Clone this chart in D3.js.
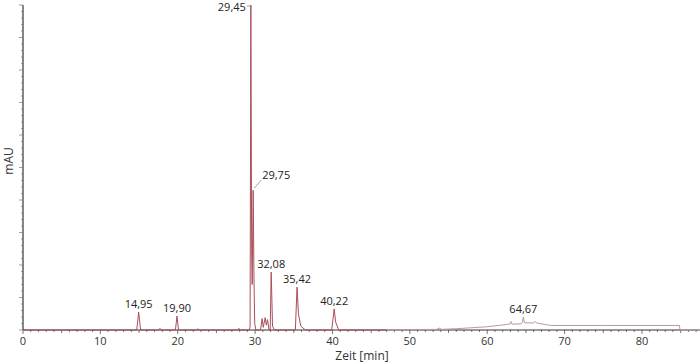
<!DOCTYPE html>
<html>
<head>
<meta charset="utf-8">
<script src="https://cdn.jsdelivr.net/npm/d3@7"></script>
<style>
  body { margin: 0; background: #fff; }
  svg { display: block; }
  text { font-family: "Open Sans", sans-serif; }
</style>
</head>
<body>
<svg id="chart" width="700" height="364"></svg>
<script>
// Chromatogram trace: retention time [min] and signal [mAU, relative]
const traceTime = [0, 14.7, 14.95, 15.2, 17.55, 17.7, 17.85, 19.7, 19.9, 20.1,
  22.5, 22.6, 22.7, 27.8, 27.9, 28.0, 29.25, 29.35, 29.45, 29.55, 29.62, 29.75, 29.85, 29.95, 30.1,
  30.7, 30.9, 31.05, 31.3, 31.45, 31.6, 31.8, 31.95, 32.08, 32.25, 32.5,
  35.2, 35.42, 35.6, 35.9, 36.5, 39.9, 40.22, 40.4, 40.8,
  47, 53.5, 53.8, 54.1, 56, 58, 60, 61.5, 62.5, 62.9, 63.05, 63.2, 64.4, 64.55, 64.67, 64.8,
  66.0, 66.2, 66.4, 66.7, 67.5, 68.2, 75, 84.85, 84.9, 87.5];
const traceValue = [0, 0, 55, 0, 0, 5, 0, 0, 43, 0,
  0, 4, 0, 0, 5, 0, 0, 10, 1000, 250, 140, 430, 160, 20, 0,
  0, 35, 8, 38, 15, 32, 0, 0, 178, 12, 0,
  0, 132, 50, 12, 0, 0, 65, 25, 0,
  0, 2, 6, 2, 4, 7, 10, 14, 17, 18, 26, 18, 19, 24, 40, 22,
  22, 26, 22, 20, 17, 14, 14, 14, 0, 0];

// Labelled peaks
const peakTimes = [14.95, 19.90, 29.45, 29.75, 32.08, 35.42, 40.22, 64.67];
const peakLabels = ["14,95", "19,90", "29,45", "29,75", "32,08", "35,42", "40,22", "64,67"];
const peakHeights = [55, 43, 1000, 430, 178, 132, 65, 40];

// Axis
const xTickValues = [0, 10, 20, 30, 40, 50, 60, 70, 80];
const xTickLabels = ["0", "10", "20", "30", "40", "50", "60", "70", "80"];
const xTitle = "Zeit [min]";
const yTitle = "mAU";

const svg = d3.select("#chart");
const x = d3.scaleLinear().domain([0, 87.5]).range([23, 700]);
const y = d3.scaleLinear().domain([0, 1000]).range([330, 5]);

// X axis minor ticks
const minor = d3.range(0, 88, 1);
svg.append("g").selectAll("line").data(minor).join("line")
  .attr("x1", d => x(d)).attr("x2", d => x(d))
  .attr("y1", y(0)).attr("y2", d => y(0) + (d % 10 === 0 ? 4 : (d % 5 === 0 ? 3 : 2)))
  .attr("stroke", "#555").attr("stroke-width", 0.8);

// X axis line and labels
svg.append("line").attr("x1", x(0)).attr("x2", x(87.5)).attr("y1", y(0)).attr("y2", y(0))
  .attr("stroke", "#333").attr("stroke-width", 1);
svg.append("g").selectAll("text").data(xTickValues).join("text")
  .attr("x", d => x(d)).attr("y", 345)
  .attr("text-anchor", "middle").attr("font-size", 11).attr("fill", "#333")
  .text((d, i) => xTickLabels[i]);
svg.append("text").attr("x", 362).attr("y", 360).attr("text-anchor", "middle")
  .attr("font-size", 12).attr("fill", "#333").text(xTitle);

// Y axis
svg.append("line").attr("x1", x(0)).attr("x2", x(0)).attr("y1", y(0)).attr("y2", y(1000))
  .attr("stroke", "#333").attr("stroke-width", 1.2);
const yMinor = d3.range(0, 1001, 20);
svg.append("g").selectAll("line").data(yMinor).join("line")
  .attr("x1", x(0)).attr("x2", d => x(0) - (d % 100 === 0 ? 4 : 2))
  .attr("y1", d => y(d)).attr("y2", d => y(d))
  .attr("stroke", "#777").attr("stroke-width", 0.7);
svg.append("text").attr("transform", `translate(13,${y(520)}) rotate(-90)`)
  .attr("text-anchor", "middle").attr("font-size", 12).attr("fill", "#333").text(yTitle);

// Trace
const pts = traceTime.map((t, i) => [t, traceValue[i]]);
const line = d3.line().x(d => x(d[0])).y(d => y(d[1]));
svg.append("path").datum(pts.filter(d => d[0] <= 30.2))
  .attr("d", line).attr("fill", "none").attr("stroke", "#a84f59").attr("stroke-width", 1);
svg.append("path").datum(pts.filter(d => d[0] >= 30.1 && d[0] <= 47))
  .attr("d", line).attr("fill", "none").attr("stroke", "#a84f59").attr("stroke-width", 1);
svg.append("path").datum(pts.filter(d => d[0] >= 47))
  .attr("d", line).attr("fill", "none").attr("stroke", "#b89a9c").attr("stroke-width", 1);

// Peak labels
const lab = svg.append("g");
peakTimes.forEach((t, i) => {
  const px = x(t), py = y(peakHeights[i]);
  if (peakLabels[i] === "29,45") {
    lab.append("line").attr("x1", px - 4).attr("x2", px).attr("y1", py + 1).attr("y2", py + 1)
      .attr("stroke", "#888").attr("stroke-width", 0.8);
    lab.append("text").attr("x", px - 5).attr("y", py + 6).attr("text-anchor", "end")
      .attr("font-size", 11).attr("fill", "#222").text(peakLabels[i]);
  } else if (peakLabels[i] === "29,75") {
    lab.append("line").attr("x1", px + 1).attr("x2", px + 8).attr("y1", py - 2).attr("y2", py - 10)
      .attr("stroke", "#888").attr("stroke-width", 0.8);
    lab.append("text").attr("x", px + 9).attr("y", py - 11)
      .attr("font-size", 11).attr("fill", "#222").text(peakLabels[i]);
  } else {
    lab.append("text").attr("x", px).attr("y", py - 4).attr("text-anchor", "middle")
      .attr("font-size", 11).attr("fill", "#222").text(peakLabels[i]);
  }
});
</script>
</body>
</html>
